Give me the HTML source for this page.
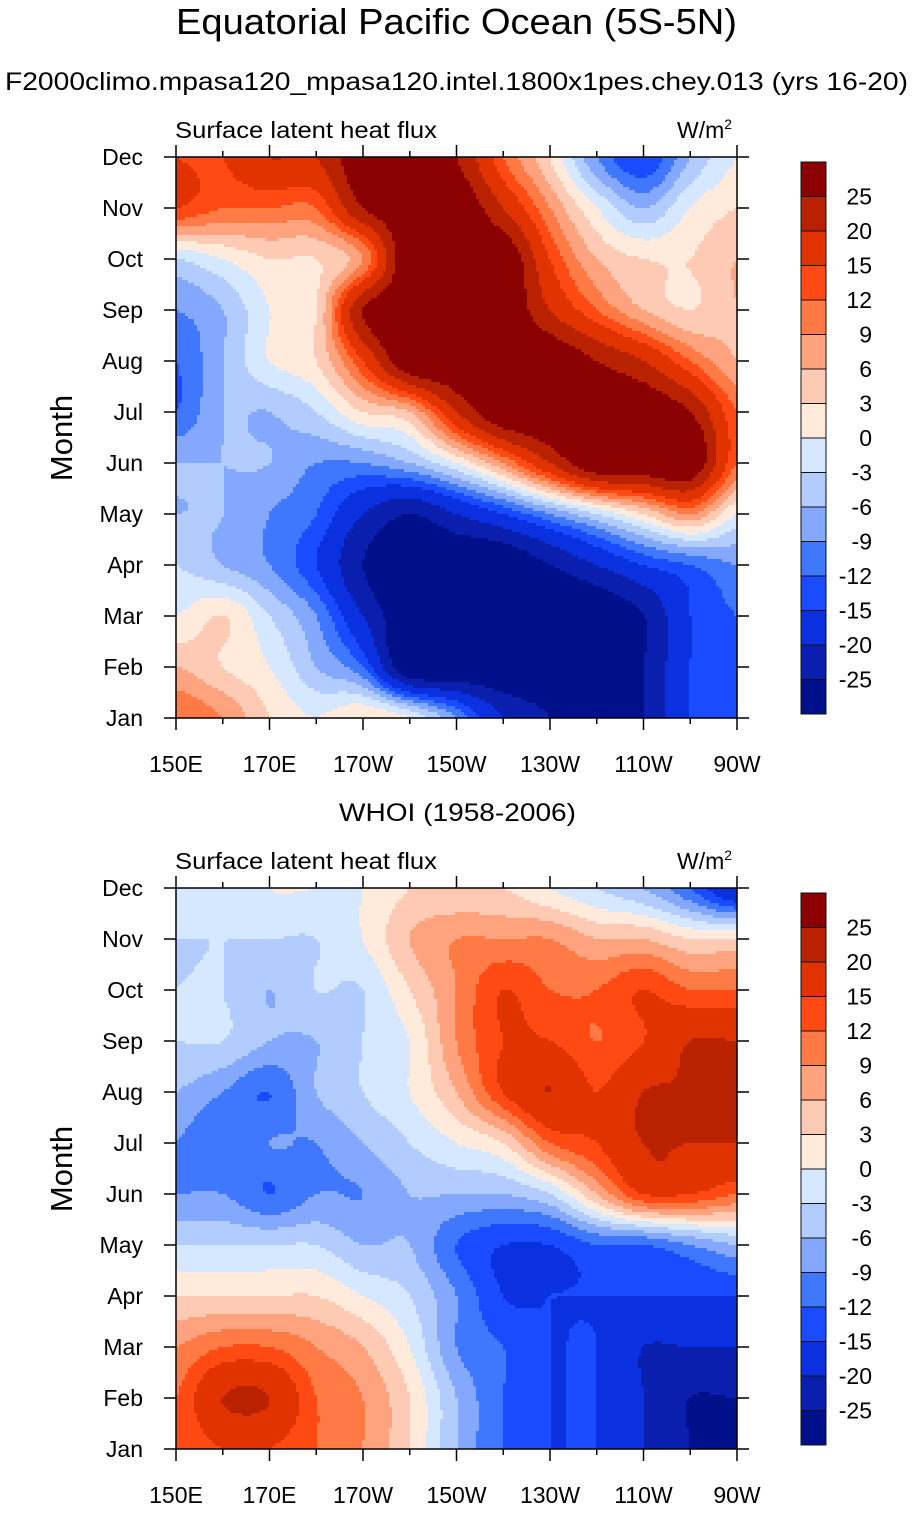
<!DOCTYPE html>
<html><head><meta charset="utf-8"><style>
body{margin:0;background:#fff;width:913px;height:1509px;overflow:hidden;font-family:"Liberation Sans",sans-serif}
svg text{font-family:"Liberation Sans",sans-serif;fill:#000}
</style></head><body>
<svg id="s" width="913" height="1509" xmlns="http://www.w3.org/2000/svg">
<text x="176" y="34" font-size="36" textLength="561" lengthAdjust="spacingAndGlyphs">Equatorial Pacific Ocean (5S-5N)</text>
<text x="5" y="90" font-size="25" textLength="903" lengthAdjust="spacingAndGlyphs">F2000climo.mpasa120_mpasa120.intel.1800x1pes.chey.013 (yrs 16-20)</text>
<text x="339" y="821" font-size="25" textLength="237" lengthAdjust="spacingAndGlyphs">WHOI (1958-2006)</text>
<g id="p1"></g>
<g id="p2"></g>
</svg>
<script>
const months=["Jan","Feb","Mar","Apr","May","Jun","Jul","Aug","Sep","Oct","Nov","Dec"];
const lonLabels=["150E","170E","170W","150W","130W","110W","90W"];
const levels=[-25,-20,-15,-12,-9,-6,-3,0,3,6,9,12,15,20,25];
const colors=["#00108a","#0a1fad","#0a30e0","#1a4bff","#4077ff","#85a8ff","#b3ccff","#d6e8ff","#ffeadc","#ffcab3","#ffa37f","#ff7a45","#ff4a14","#e03300","#b82200","#8b0000"];
// rows Jan..Dec, columns 150E..90W every 10 degrees
const modelData=[
[12,9,3,0,3,0,-9,-20,-25,-30,-25,-15,-12],
[6,3,0,-6,-12,-30,-30,-30,-30,-30,-25,-15,-12],
[0,3,-3,-9,-20,-30,-30,-30,-30,-30,-25,-15,-12],
[-3,-6,-9,-15,-25,-30,-30,-30,-25,-20,-15,-12,-9],
[-6,-6,-9,-12,-20,-25,-20,-15,-9,-3,3,9,0],
[-6,-6,-6,-9,-9,-6,0,9,20,30,30,30,12],
[-12,-6,-6,-3,3,6,20,30,30,30,30,25,12],
[-12,-6,0,3,15,30,30,30,30,25,20,12,6],
[-9,-6,0,3,25,30,30,30,20,12,6,3,6],
[-3,0,3,3,9,30,30,30,15,6,3,3,6],
[15,12,12,12,25,30,30,20,9,0,-6,0,3],
[15,15,20,20,30,30,25,12,3,-9,-15,-6,0]];
const obsData=[
[12,15,15,12,9,3,-6,-12,-15,-15,-20,-25,-30],
[12,20,20,12,9,3,-6,-12,-15,-15,-20,-25,-25],
[9,12,12,9,6,0,-9,-12,-15,-15,-20,-20,-20],
[3,3,3,3,0,-3,-9,-15,-15,-15,-15,-15,-15],
[-3,-3,-3,-3,-6,-6,-12,-15,-15,-12,-12,-9,-6],
[-9,-9,-12,-9,-9,-6,-6,-6,-3,6,15,15,12],
[-9,-12,-9,-9,-6,-3,0,3,12,15,20,20,20],
[-6,-9,-12,-6,-3,0,6,15,20,15,20,20,20],
[-3,-3,-6,-6,-3,0,9,15,15,12,15,20,20],
[-3,-3,-6,-3,-3,3,9,15,12,12,15,12,12],
[-3,-3,-3,-3,0,6,9,9,9,6,6,3,3],
[0,-3,0,0,0,3,3,3,0,-3,-6,-12,-20]];
const NS="http://www.w3.org/2000/svg";
function mk(t,a,p){const e=document.createElementNS(NS,t);for(const k in a)e.setAttribute(k,a[k]);p.appendChild(e);return e;}
function colorFor(v){v=Math.round(v*100)/100;let i=0;while(i<levels.length&&v>=levels[i])i++;return colors[i];}
function cw(t){ // catmull-rom weights
  const t2=t*t,t3=t2*t;
  return [(-t3+2*t2-t)/2,(3*t3-5*t2+2)/2,(-3*t3+4*t2+t)/2,(t3-t2)/2];}
function panel(g,data,top){
  const L=176,R=737,T=top,B=top+561;
  const xs=c=>L+(R-L)*c/(data[0].length-1);
  const ys=r=>B-(B-T)*r/(data.length-1);
  const step=3,nc=data[0].length-1,nr=data.length-1;
  const get=(r,c)=>data[Math.max(0,Math.min(nr,r))][Math.max(0,Math.min(nc,c))];
  const sample=(x,y)=>{const fc=Math.max(0,Math.min(nc,(x-L)/(R-L)*nc)),fr=Math.max(0,Math.min(nr,(B-y)/(B-T)*nr));
    const c0=Math.min(nc-1,Math.floor(fc)),r0=Math.min(nr-1,Math.floor(fr));
    const wx=cw(fc-c0),wy=cw(fr-r0);let s=0;
    for(let j=0;j<4;j++)for(let i=0;i<4;i++)s+=wy[j]*wx[i]*get(r0-1+j,c0-1+i);
    return s;};
  const cg=mk("g",{},g);
  
  
  for(let y=T;y<B;y+=step){
    let runStart=L,runCol=null;
    for(let x=L;x<=R;x+=step){
      const col=x<R?colorFor(sample(x+step/2,y+step/2)):null;
      if(col!==runCol){
        if(runCol){mk("rect",{x:runStart,y:y,width:Math.min(x,R)-runStart,height:Math.min(step,B-y)+0.5,fill:runCol},cg);}
        runStart=x;runCol=col;
      }
    }
  }
  mk("rect",{x:L,y:T,width:R-L,height:B-T,fill:"none",stroke:"#000","stroke-width":1.5},g);
  for(let r=0;r<12;r++){const y=ys(r);
    mk("line",{x1:L-12,y1:y,x2:L,y2:y,stroke:"#000","stroke-width":1.5},g);
    mk("line",{x1:R,y1:y,x2:R+12,y2:y,stroke:"#000","stroke-width":1.5},g);
    const t=mk("text",{x:143,y:y+8,"font-size":23,"text-anchor":"end"},g);t.textContent=months[r];
    }
  for(let c=0;c<=12;c++){const x=xs(c),len=c%2==0?12:6;
    mk("line",{x1:x,y1:B,x2:x,y2:B+len,stroke:"#000","stroke-width":1.5},g);
    mk("line",{x1:x,y1:T-len,x2:x,y2:T,stroke:"#000","stroke-width":1.5},g);
    if(c%2==0){const t=mk("text",{x:x,y:B+54,"font-size":23,"text-anchor":"middle"},g);t.textContent=lonLabels[c/2];
      }}
  let t=mk("text",{x:175,y:T-19,"font-size":23,textLength:262,lengthAdjust:"spacingAndGlyphs"},g);t.textContent="Surface latent heat flux";
  
  t=mk("text",{x:677,y:T-19,"font-size":23},g);t.innerHTML='W/m<tspan font-size="14" dy="-9">2</tspan>';
  
  t=mk("text",{x:72,y:T+281,"font-size":31,"text-anchor":"middle",transform:`rotate(-90 72 ${T+281})`},g);t.textContent="Month";
  
  const cb=mk("g",{},g);
  
  const cT=T+5,h=34.5;
  for(let i=0;i<16;i++){mk("rect",{x:801,y:cT+h*(15-i),width:25,height:h,fill:colors[i],stroke:"#111","stroke-width":1},cb);}
  for(let i=0;i<15;i++){const tt=mk("text",{x:872,y:cT+h*(15-i)+8,"font-size":23,"text-anchor":"end"},cb);tt.textContent=levels[i];}
}
panel(document.getElementById("p1"),modelData,157);
panel(document.getElementById("p2"),obsData,888);
</script>
</body></html>
